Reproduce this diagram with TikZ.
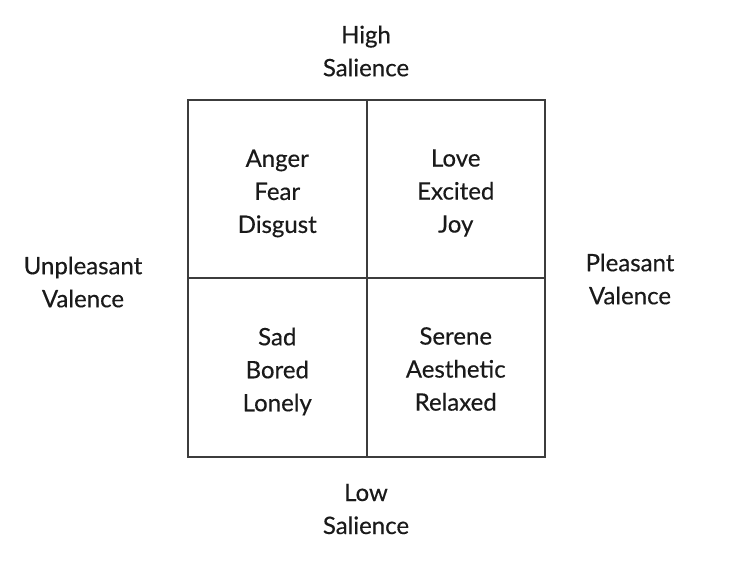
\documentclass[tikz,border=0pt]{standalone}
\usepackage{fontspec}
\setmainfont{Lato}[FakeBold=0.4]
\usetikzlibrary{positioning}
\definecolor{cline}{HTML}{3C3C3C}
\definecolor{ctext}{HTML}{1A1A1A}
\tikzset{
  every picture/.style={line width=2pt},
  cell/.style={draw=cline, minimum width=178.5pt, minimum height=178.5pt, inner sep=0pt, outer sep=0pt},
  lbl/.style={align=center, text=ctext, font=\fontsize{24}{33}\selectfont},
}

\begin{document}
\begin{tikzpicture}[x=1pt, y=-1pt]
  \useasboundingbox (0,0) rectangle (748,580);
  % quadrants
  \node[cell] (hu) at (277.25,189.25) {};
  \node[cell] (hp) at (455.75,189.25) {};
  \node[cell] (lu) at (277.25,367.75) {};
  \node[cell] (lp) at (455.75,367.75) {};
  \node[lbl] (hut) at (277.25,193.5) {Anger\\Fear\\Disgust};
  \node[lbl] (hpt) at (455.75,193) {Love\\Excited\\Joy};
  \node[lbl] (lut) at (277.25,371.5) {Sad\\Bored\\Lonely};
  \node[lbl] (lpt) at (455.75,369) {Serene\\Aesthetic\\Relaxed};
  % axis labels
  \node[lbl] (high) at (366,51) {High\\Salience};
  \node[lbl] (low) at (366,509) {Low\\Salience};
  \node[lbl] (unpl) at (83,282) {Unpleasant\\Valence};
  \node[lbl] (pl) at (630,279) {Pleasant\\Valence};
\end{tikzpicture}
\end{document}
